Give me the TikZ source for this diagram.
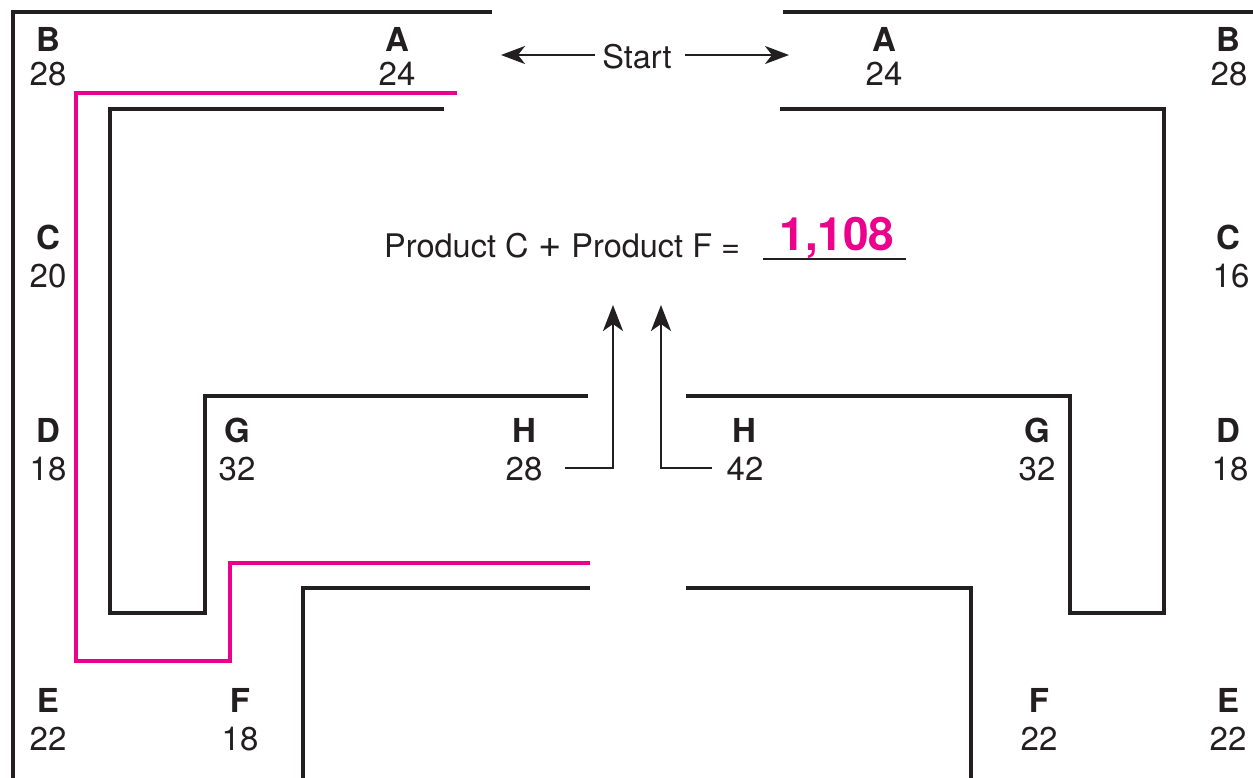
\documentclass[tikz,border=0pt]{standalone}
\usepackage{fontspec}
\setmainfont{TeX Gyre Heros}
\usetikzlibrary{arrows.meta}
\definecolor{mag}{HTML}{EC008C}
\definecolor{ink}{HTML}{231F20}
\begin{document}
\begin{tikzpicture}[x=1pt,y=-1pt,
  wall/.style={draw=ink,line width=3.1pt,line join=miter},
  path/.style={draw=mag,line width=3.1pt,line join=miter},
  arr/.style={draw=ink,line width=2.6pt,-{Stealth[length=26pt,width=20pt,inset=7pt]}},
  sarr/.style={draw=ink,line width=2.6pt,-{Stealth[length=24pt,width=18pt,inset=7pt]}},
  ltr/.style={anchor=base,inner sep=0pt,text=ink,font=\fontsize{33}{33}\selectfont\bfseries},
  num/.style={anchor=base,inner sep=0pt,text=ink,font=\fontsize{33}{33}\selectfont},
  txt/.style={anchor=base,inner sep=0pt,text=ink,font=\fontsize{32.5}{32.5}\selectfont},
  ans/.style={anchor=base,inner sep=0pt,text=mag,font=\fontsize{46}{46}\selectfont\bfseries}]
\useasboundingbox (0,0) rectangle (1253,777);
% walls
\draw[wall] (492,12) -- (13,12) -- (13,780);
\draw[wall] (783,12) -- (1256,12);
\draw[wall] (444,109) -- (110,109) -- (110,613) -- (205,613) -- (205,396) -- (588,396);
\draw[wall] (780,109) -- (1164,109) -- (1164,613) -- (1070,613) -- (1070,396) -- (686,396);
\draw[wall] (303,780) -- (303,588) -- (590,588);
\draw[wall] (686,588) -- (971,588) -- (971,780);
% magenta path
\draw[path] (457,93) -- (76,93) -- (76,661) -- (230,661) -- (230,563) -- (590,563);
% left labels
\node[ltr] (Bl) at (48,51) {B};  \node[num] (Bln) at (48,85) {28};
\node[ltr] (Al) at (397,51) {A}; \node[num] (Aln) at (397,85) {24};
\node[ltr] (Cl) at (48,249) {C}; \node[num] (Cln) at (48,287) {20};
\node[ltr] (Dl) at (48,442) {D}; \node[num] (Dln) at (48,480) {18};
\node[ltr] (Gl) at (237,442) {G}; \node[num] (Gln) at (237,480) {32};
\node[ltr] (Hl) at (524,442) {H}; \node[num] (Hln) at (524,480) {28};
\node[ltr] (El) at (48,712) {E}; \node[num] (Eln) at (48,750) {22};
\node[ltr] (Fl) at (240,712) {F}; \node[num] (Fln) at (240,750) {18};
% right labels
\node[ltr] (Ar) at (884,51) {A}; \node[num] (Arn) at (884,85) {24};
\node[ltr] (Br) at (1228,51) {B}; \node[num] (Brn) at (1229,85) {28};
\node[ltr] (Cr) at (1228,249) {C}; \node[num] (Crn) at (1231,287) {16};
\node[ltr] (Dr) at (1228,442) {D}; \node[num] (Drn) at (1230,480) {18};
\node[ltr] (Hr) at (744,442) {H}; \node[num] (Hrn) at (745,480) {42};
\node[ltr] (Gr) at (1037,442) {G}; \node[num] (Grn) at (1037,480) {32};
\node[ltr] (Fr) at (1039,712) {F}; \node[num] (Frn) at (1039,750) {22};
\node[ltr] (Er) at (1228,712) {E}; \node[num] (Ern) at (1228,750) {22};
% start
\node[txt] (start) at (637,68) {Start};
\coordinate (sl) at (595,55);
\coordinate (sr) at (685,55);
\draw[sarr] (sl) -- (501,55);
\draw[sarr] (sr) -- (789,55);
% formula
\node[txt,anchor=base west] (form) at (384,257) {Product C\hspace{0.3em}{\fontsize{40}{40}\selectfont +}\hspace{0.3em}Product F =};
\coordinate (ul) at (763,259);
\coordinate (ur) at (906,259);
\draw[draw=ink,line width=2.6pt] (ul) -- (ur);
\node[ans] (answer) at (837,250) {1,108};
% arrows from H values
\coordinate (hl) at (565,468);
\coordinate (hr) at (712,468);
\draw[arr] (hl) -- (613,468) -- (613,305);
\draw[arr] (hr) -- (661,468) -- (661,305);
\end{tikzpicture}
\end{document}
